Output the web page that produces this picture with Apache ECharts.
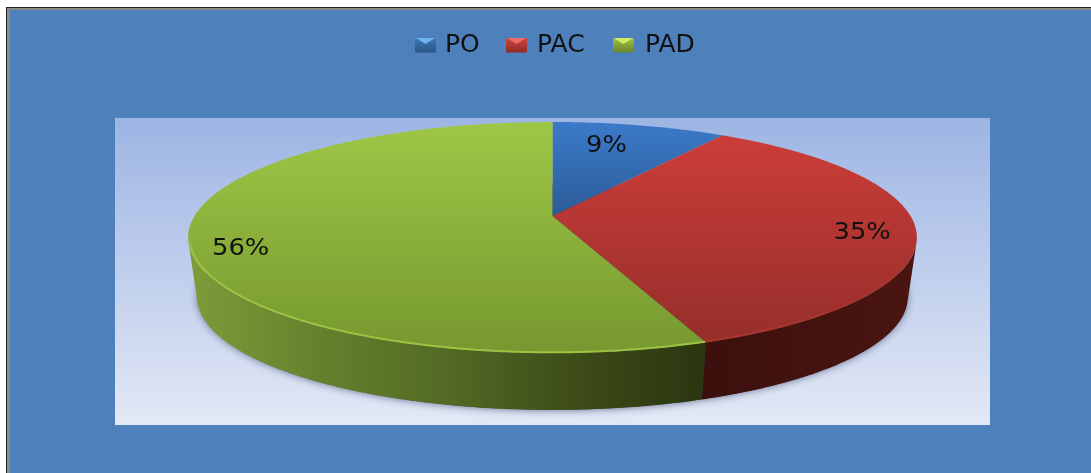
<!DOCTYPE html>
<html><head><meta charset="utf-8">
<style>html,body{margin:0;padding:0;background:#fff}#c{width:1091px;height:473px}</style>
<script src="https://cdn.jsdelivr.net/npm/echarts@6/dist/echarts.min.js"></script>
</head><body><div id="c"></div>
<script>
const categories = ['PO', 'PAC', 'PAD'];
const shares = [9.25, 35, 55.75];

const LG = (x0,y0,x1,y1,stops)=>new echarts.graphic.LinearGradient(x0,y0,x1,y1,stops.map((c,i)=>({offset:i/(stops.length-1),color:c})));
const topFill = [['#3b7ac9','#2c5c98'],['#cc3d39','#962e2a'],['#9fc746','#76982f']];
const wallFill = [['#1d3a60','#1d3a60'],['#3c100d','#4a1511'],['#7f9c39','#66812d','#526a24','#3d4c18','#2b3610']];
const rimColor = ['#4a86d0','#a8362f','#9cc443'];
const legendFill = [['#3e78b8','#285483'],['#c94440','#8f2a28'],['#9fbd43','#6b8528']];
const legendLight = ['#6db5f0','#f26a66','#d6ec68'];
const legendLeft = [410, 501, 608];
const legendTextGap = [4, 5, 6];
const labelR = [0.58, 0.855, 0.86];
const labelDy = [-14, 6, 15];

const cx=552.5, cy=216, A=358, B=111.5, p=0.186, depth=60.4, shrink=0.975;
const frontFrom=103/180*Math.PI, frontTo=257/180*Math.PI;
const total = shares.reduce((a,b)=>a+b,0);
function proj(theta,r,lower){
  const u=r*Math.sin(theta), v=-r*Math.cos(theta), w=1-p*v;
  const s=lower?shrink:1;
  return [cx+s*A*u/w, cy+(lower?depth:0)+s*B*v/w];
}
function arc(a0,a1,r,lower){
  const n=Math.max(8,Math.ceil((a1-a0)/0.01)), pts=[];
  for(let i=0;i<=n;i++) pts.push(proj(a0+(a1-a0)*i/n,r,lower));
  return pts;
}
function span(i){
  const before=shares.slice(0,i).reduce((a,b)=>a+b,0);
  return [before/total*2*Math.PI,(before+shares[i])/total*2*Math.PI];
}
function sliceItem(i){
  return function(params,api){
    const [a0,a1]=span(i);
    const topArc=arc(a0,a1,1,false);
    const mid=(a0+a1)/2, lp=proj(mid,labelR[i],false);
    const f0=Math.max(a0,frontFrom), f1=Math.min(a1,frontTo);
    const children=[];
    if(f1>f0) children.push({type:'polygon',shape:{points:arc(f0,f1,1,false).concat(arc(f0,f1,1,true).reverse())},style:{fill:LG(0,0,1,0,wallFill[i])}});
    children.push({type:'polygon',shape:{points:[[cx,cy]].concat(topArc)},style:{fill:LG(0,0,0,1,topFill[i])}});
    if(f1>f0) children.push({type:'polyline',shape:{points:arc(f0,f1,0.996,false)},style:{fill:null,stroke:rimColor[i],lineWidth:2}});
    children.push({type:'text',x:lp[0],y:lp[1]+labelDy[i],scaleX:1.12,style:{text:Math.round(shares[i])+'%',x:0,y:0,align:'center',verticalAlign:'middle',fill:'#111',fontSize:23,fontFamily:'DejaVu Sans'}});
    return {type:'group',children};
  };
}
function shadowItem(){
  const ring=arc(0,2*Math.PI,0.998,true);
  return {type:'polygon',shape:{points:ring},style:{fill:'rgba(40,55,90,0.9)',shadowBlur:8,shadowColor:'rgba(25,40,80,0.75)'}};
}

const series=[{type:'custom',name:'shadow',coordinateSystem:'none',silent:true,data:[0],renderItem:shadowItem}];
categories.forEach((name,i)=>series.push({
  type:'custom',name,coordinateSystem:'none',silent:true,data:[shares[i]],
  itemStyle:{color:topFill[i][0]},renderItem:sliceItem(i)
}));

const chrome=[
  {type:'rect',shape:{x:6,y:7,width:1085,height:466},style:{fill:'#222'}},
  {type:'rect',shape:{x:7,y:8,width:1084,height:465},style:{fill:'#8a8a8a'}},
  {type:'rect',shape:{x:10,y:10,width:1081,height:463},style:{fill:'#4e80bc'}},
  {type:'rect',shape:{x:115,y:118,width:875,height:307},style:{fill:LG(0,0,0,1,['#9db5e4','#e3e8f5'])}}
];
legendLeft.forEach((x,i)=>chrome.push({type:'polygon',z:10,shape:{points:[[x+6,38],[x+25,38],[x+15.5,44]]},style:{fill:legendLight[i]}}));

const chart=echarts.init(document.getElementById('c'),null,{renderer:'canvas'});
chart.setOption({
  animation:false,
  graphic:chrome,
  legend:categories.map((name,i)=>({
    show:true,left:legendLeft[i],top:28,selectedMode:false,itemWidth:21,itemHeight:14,itemGap:0,
    icon:'rect',
    data:[{name,itemStyle:{color:LG(0,0,0,1,legendFill[i])}}],
    textStyle:{color:'#111',fontSize:25,fontFamily:'DejaVu Sans',padding:[0,0,0,legendTextGap[i]]}
  })),
  series
});
</script></body></html>
